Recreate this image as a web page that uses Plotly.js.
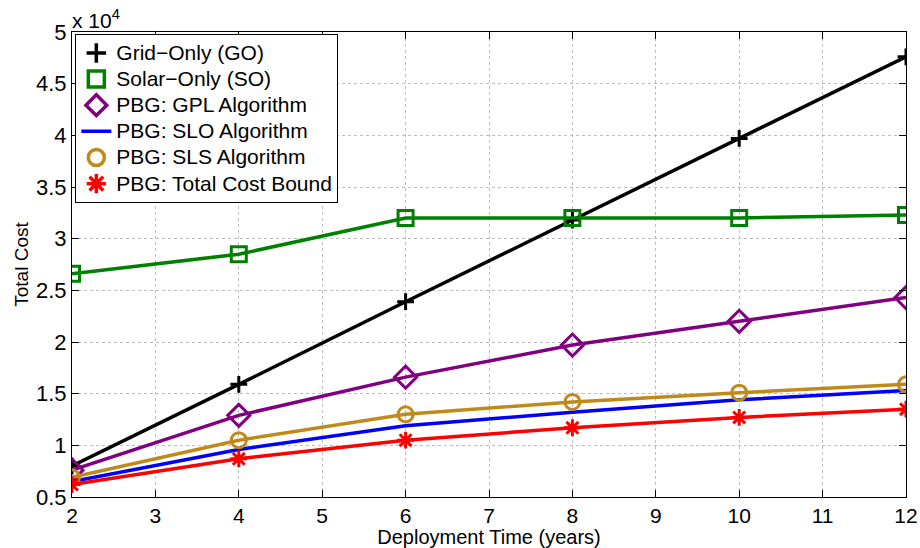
<!DOCTYPE html>
<html><head><meta charset="utf-8">
<script src="https://cdn.plot.ly/plotly-3.0.1.min.js"></script>
<style>html,body{margin:0;padding:0;background:#fff}#chart{width:920px;height:548px}</style>
</head><body><div id="chart"></div>
<script>
// Values in units of 10^4
const years = [2, 4, 6, 8, 10, 12];
const gridOnly = [0.80, 1.59, 2.39, 3.18, 3.97, 4.76];
const solarOnly = [2.66, 2.85, 3.20, 3.20, 3.20, 3.23];
const gplAlg = [0.76, 1.29, 1.66, 1.97, 2.20, 2.43];
const sloAlg = [0.65, 0.96, 1.19, 1.32, 1.44, 1.53];
const slsAlg = [0.69, 1.05, 1.30, 1.42, 1.51, 1.59];
const costBound = [0.62, 0.87, 1.05, 1.17, 1.27, 1.35];
const seriesNames = ['Grid\u2212Only (GO)', 'Solar\u2212Only (SO)', 'PBG: GPL Algorithm',
  'PBG: SLO Algorithm', 'PBG: SLS Algorithm', 'PBG: Total Cost Bound'];
const yTicks = [0.5, 1, 1.5, 2, 2.5, 3, 3.5, 4, 4.5, 5];
const yTickText = ['0.5','1','1.5','2','2.5','3','3.5','4','4.5','5'];
const xTicks = [2,3,4,5,6,7,8,9,10,11,12];

const styles = [
  {color:'#000000', symbol:'cross-thin-open', size:12},
  {color:'#008000', symbol:'square-open', size:15},
  {color:'#800080', symbol:'diamond-open', size:17},
  {color:'#0000FF', symbol:null, size:0},
  {color:'#BF8A1A', symbol:'circle-open', size:15},
  {color:'#FF0000', symbol:'asterisk-open', size:14}
];
const series = [gridOnly, solarOnly, gplAlg, sloAlg, slsAlg, costBound];

const data = [];
series.forEach((y, i) => {
  const s = styles[i];
  const t = {x: years, y: y, name: seriesNames[i], type:'scatter', showlegend:false,
    mode: s.symbol ? 'lines+markers' : 'lines', line:{color:s.color, width:3.5}};
  if (s.symbol) t.marker = {symbol:s.symbol, size:s.size, color:s.color, line:{color:s.color, width:3}};
  data.push(t);
});
// legend entries (no drawn marks)
series.forEach((y, i) => {
  const s = styles[i];
  const t = {x:[null], y:[null], type:'scatter', showlegend:true,
    name:'<span style="font-size:21px">' + seriesNames[i] + '</span>',
    mode: s.symbol ? 'markers' : 'lines', line:{color:s.color, width:3.5}};
  if (s.symbol) t.marker = {symbol:s.symbol, size:Math.min(s.size + 2, 16), color:s.color, line:{color:s.color, width:3.5}};
  data.push(t);
});

const axisCommon = {showline:true, linecolor:'#000', linewidth:1, mirror:'ticks', ticks:'inside', ticklen:7, tickcolor:'#000',
  showgrid:true, gridcolor:'#bdbdbd', griddash:'dot', gridwidth:1, zeroline:false};
const layout = {
  width:920, height:548,
  margin:{l:72, r:14, t:32, b:51},
  paper_bgcolor:'#fff', plot_bgcolor:'#fff',
  font:{family:'Liberation Sans, Arial, sans-serif', color:'#000'},
  xaxis: Object.assign({}, axisCommon, {range:[2,12], tickvals:xTicks, ticklabelstandoff:0,
    tickfont:{family:'Liberation Sans, Arial, sans-serif', size:21, color:'#000'},
    title:{text:'Deployment Time (years)', font:{size:20}, standoff:2}}),
  yaxis: Object.assign({}, axisCommon, {range:[0.5,5], tickvals:yTicks, ticktext:yTickText, ticklabelstandoff:0,
    tickfont:{family:'Liberation Sans, Arial, sans-serif', size:22, color:'#000'},
    title:{text:'Total Cost', font:{size:19}, standoff:2}}),
  showlegend:true,
  legend:{x:0.004, y:0.996, xanchor:'left', yanchor:'top', bgcolor:'#fff', bordercolor:'#000', borderwidth:1,
    font:{size:17.8, color:'#000'}, itemwidth:30, tracegroupgap:0},
  annotations:[{xref:'paper', yref:'paper', x:0, y:1, xanchor:'left', yanchor:'bottom', showarrow:false,
    text:'x 10<sup>4</sup>', font:{size:21, color:'#000'}, xshift:-2, yshift:-2}]
};
Plotly.newPlot('chart', data, layout, {displayModeBar:false, staticPlot:true});
</script></body></html>
